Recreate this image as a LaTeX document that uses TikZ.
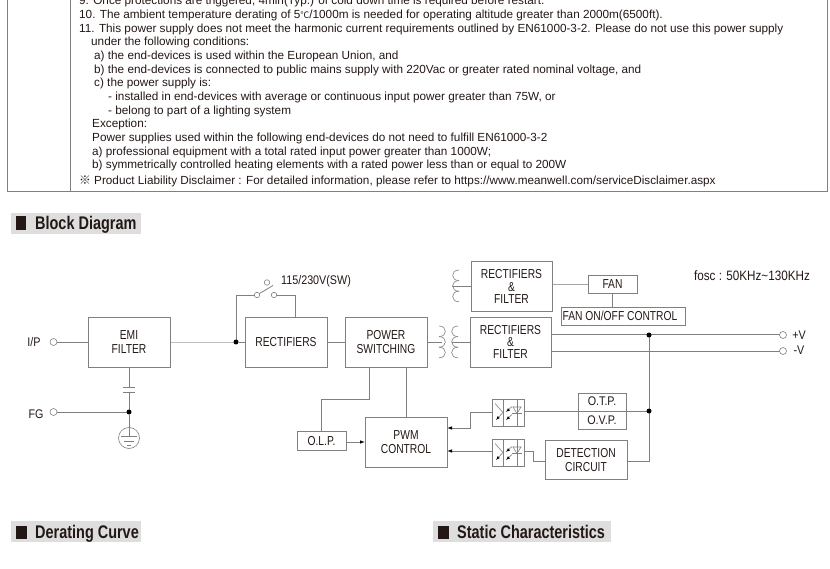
\documentclass[tikz,border=0pt]{standalone}
\usepackage{fontspec}
\setmainfont{Liberation Sans}
\newfontfamily\narrowfont[FakeStretch=0.79]{Liberation Sans}
\newfontfamily\tagfont[FakeStretch=0.86]{Liberation Sans}
\newfontfamily\headfont[FakeStretch=0.79]{Liberation Sans}
\newfontfamily\cjk{Noto Sans CJK SC}
\usetikzlibrary{arrows.meta,backgrounds}
\definecolor{linegray}{HTML}{808080}
\definecolor{inkblack}{HTML}{231815}
\definecolor{bargray}{HTML}{DEDEDE}
\tikzset{
    wire/.style={draw=linegray, line width=0.8pt},
    thinwire/.style={draw=linegray, line width=0.6pt},
    blockbox/.style 2 args={draw=linegray, line width=0.8pt, minimum width=#1, minimum height=#2,
        inner sep=0pt, outer sep=0pt, align=center, text=inkblack,
        font=\narrowfont\fontsize{13}{14.6}\selectfont},
    rectbox/.style={blockbox={81pt}{50pt}, font=\narrowfont\fontsize{13}{12.4}\selectfont},
    optobox/.style={blockbox={32pt}{27pt}},
    terminal/.style={circle, draw=linegray, line width=0.6pt, fill=white, minimum size=7pt, inner sep=0pt, outer sep=0pt},
    junction/.style={circle, fill=black, minimum size=5pt, inner sep=0pt, outer sep=0pt},
    tag/.style={inner sep=0pt, text=inkblack, font=\tagfont\fontsize{12.5}{14}\selectfont},
    notetext/.style={anchor=base west, inner sep=0pt, text=inkblack, font=\fontsize{11.75}{13}\selectfont},
    headbar/.style={fill=bargray, draw=none},
    headtext/.style={anchor=base west, inner sep=0pt, text=inkblack, font=\headfont\bfseries\fontsize{18.3}{20}\selectfont},
    flow/.style={wire, -{Latex[length=5pt,width=3.5pt,black]}}
}
\newcommand{\coilturns}[4]{%
    \foreach \k in {0,1,2}
        \draw[thinwire] (#1,#2+\k*#4) .. controls (#1+#3,#2+\k*#4) and (#1+#3,#2+#4+\k*#4) .. (#1,#2+#4+\k*#4);
}
\begin{document}
\begin{tikzpicture}[x=1pt, y=-1pt]
    \useasboundingbox (0,0) rectangle (830,569);

    % notes table
    \draw[linegray, line width=0.7pt] (7,-5) -- (7,191) -- (827,191) -- (827,-5);
    \draw[linegray, line width=0.7pt] (70,-5) -- (70,191);

    \node[notetext] (note9) at (79,5) {9. Once protections are triggered, 4min(Typ.) of cold down time is required before restart.};
    \node[notetext] (note10) at (79,18.5) {10. The ambient temperature derating of 5{\cjk\fontsize{9}{9}\selectfont ℃}/1000m is needed for operating altitude greater than 2000m(6500ft).};
    \node[notetext] (note11) at (79,32.5) {11. This power supply does not meet the harmonic current requirements outlined by EN61000-3-2. Please do not use this power supply};
    \node[notetext] (note11a) at (91,46) {under the following conditions:};
    \node[notetext] (note11b) at (94,60) {a) the end-devices is used within the European Union, and};
    \node[notetext] (note11c) at (94,73.5) {b) the end-devices is connected to public mains supply with 220Vac or greater rated nominal voltage, and};
    \node[notetext] (note11d) at (94,87) {c) the power supply is:};
    \node[notetext] (note11e) at (108,101) {- installed in end-devices with average or continuous input power greater than 75W, or};
    \node[notetext] (note11f) at (108,114.5) {- belong to part of a lighting system};
    \node[notetext] (note11g) at (92,128) {Exception:};
    \node[notetext] (note11h) at (92,142) {Power supplies used within the following end-devices do not need to fulfill EN61000-3-2};
    \node[notetext] (note11i) at (92,155.5) {a) professional equipment with a total rated input power greater than 1000W;};
    \node[notetext] (note11j) at (92,169) {b) symmetrically controlled heating elements with a rated power less than or equal to 200W};
    \node[notetext] (note12) at (79,184.5) {{\cjk ※} Product Liability Disclaimer : For detailed information, please refer to https://www.meanwell.com/serviceDisclaimer.aspx};

    % section heads
    \fill[headbar] (11,213) rectangle (141,234);
    \fill[inkblack] (16,216) rectangle (26,230);
    \node[headtext] (headblock) at (35,230) {Block Diagram};
    \fill[headbar] (11,521) rectangle (141,542);
    \fill[inkblack] (16,526) rectangle (27,539);
    \node[headtext] (headderate) at (35,538) {Derating Curve};
    \fill[headbar] (433,521) rectangle (611,542);
    \fill[inkblack] (438,526) rectangle (449,539);
    \node[headtext] (headstatic) at (457,538) {Static Characteristics};

    % blocks
    \node[blockbox={82pt}{50pt}] (emi) at (129,342) {EMI\\FILTER};
    \node[blockbox={82pt}{50pt}] (rect) at (286,342) {RECTIFIERS};
    \node[blockbox={82pt}{50pt}] (switching) at (386,342) {POWER\\SWITCHING};
    \node[rectbox] (rectfan) at (511.5,286.5) {RECTIFIERS\\\&\\FILTER};
    \node[rectbox] (rectout) at (510.5,342) {RECTIFIERS\\\&\\FILTER};
    \node[blockbox={49pt}{18pt}] (fan) at (612.5,284) {FAN};
    \node[blockbox={124pt}{18pt}] (fanctrl) at (623,316) {FAN ON/OFF CONTROL\hspace*{6pt}};
    \node[blockbox={49pt}{19pt}] (olp) at (321.5,441) {O.L.P.};
    \node[blockbox={82pt}{50pt}] (pwm) at (406,442) {PWM\\CONTROL};
    \node[optobox] (optotop) at (508,412.5) {};
    \node[optobox] (optobot) at (508,452.5) {};
    \node[blockbox={48pt}{36pt}] (prot) at (602,411) {};
    \node[blockbox={82pt}{39pt}] (detect) at (586,460) {DETECTION\\CIRCUIT};

    % terminals and labels
    \node[terminal] (ip) at (53.5,342) {};
    \node[terminal] (fg) at (53.5,412) {};
    \node[terminal] (vplus) at (783,335) {};
    \node[terminal] (vminus) at (783,351) {};
    \node[tag] (iplabel) at (34,342.5) {I/P};
    \node[tag] (fglabel) at (36,414) {FG};
    \node[tag] (vpluslabel) at (799,335) {+V};
    \node[tag] (vminuslabel) at (799,350.5) {-V};
    \node[tag] (swlabel) at (316,281) {115/230V(SW)};
    \node[tag, font=\tagfont\fontsize{13.6}{14}\selectfont] (fosc) at (752,275.5) {fosc : 50KHz\textasciitilde 130KHz};
    \node[tag] (otp) at (602,401.5) {O.T.P.};
    \node[tag] (ovp) at (602,420) {O.V.P.};

    % junctions and switch contacts
    \node[junction] (inputdot) at (236,342) {};
    \node[junction] (fgdot) at (129,412) {};
    \node[junction] (plusdot) at (649,335) {};
    \node[junction] (sensedot) at (649,411) {};
    \node[terminal, minimum size=5.5pt] (swa) at (257,295) {};
    \node[terminal, minimum size=5.5pt] (swb) at (274,295) {};
    \node[terminal, minimum size=5.5pt] (swc) at (267,282.5) {};

    \begin{scope}[on background layer]
    % main path
    \draw[wire] (ip) -- (emi.west);
    \draw[wire, draw=linegray!50] (emi.east) -- (inputdot);
    \draw[wire] (inputdot) -- (rect.west);
    \draw[wire] (inputdot) |- (swa);
    \draw[wire] (swb) -| (295,317);
    \draw[wire] (swa) -- (273,285.5);
    \draw[wire] (rect.east) -- (switching.west);
    \draw[wire] (switching.east) -- (442,342);
    \draw[wire] (452,342) -- (rectout.west);
    \draw[wire] (452,286.5) -- (rectfan.west);
    \draw[wire, draw=linegray!70] (rectfan.east |- fan.west) -- (fan.west);
    \draw[wire] (fan.south) -- (fan.south |- fanctrl.north);
    \draw[wire, line width=1pt] (rectout.east |- vplus) -- (vplus);
    \draw[wire, line width=1pt] (rectout.east |- vminus) -- (vminus);

    % input filter and earth
    \coordinate (capa) at (129,387);
    \coordinate (capb) at (129,392);
    \coordinate (earthtop) at (129,436);
    \draw[wire] (emi.south) -- (capa);
    \draw[wire] (123,387) -- (135,387);
    \draw[wire] (123,392) -- (135,392);
    \draw[wire] (capb) -- (fgdot);
    \draw[wire] (fg) -- (fgdot);
    \draw[wire] (fgdot) -- (earthtop);

    % control loop
    \draw[wire] (369,367) |- (321.5,399) -- (olp.north);
    \draw[wire] (406,367) -- (pwm.north);
    \draw[flow] (olp.east |- pwm.west) -- (pwm.west);
    \draw[flow] (optotop.west |- 0,412) -| (470,428) -- (pwm.east |- 0,428);
    \draw[flow] (optobot.west |- 0,451) -- (pwm.east |- 0,451);
    \draw[wire] (optotop.east |- sensedot) -- (sensedot);
    \draw[wire] (optobot.east |- 0,451) -| (533,461) -- (detect.west |- 0,461);
    \draw[wire] (detect.east |- 0,461) -| (plusdot);
    \end{scope}

    % transformer
    \coilturns{439}{326}{8.5}{10.6}
    \coilturns{458}{326}{-8.5}{10.6}
    \coilturns{459}{270}{-8.5}{10.6}

    % earth symbol
    \node[circle, thinwire, minimum size=21pt, inner sep=0pt] (earth) at (129,438) {};
    \draw[thinwire] (121,436) -- (137,436);
    \draw[thinwire] (124,441) -- (134,441);
    \draw[thinwire] (127,445) -- (131,445);

    % opto couplers
    \foreach \opto in {optotop,optobot} {
        \begin{scope}[shift={(\opto)}]
            \draw[thinwire] (-5,-13.5) -- (-5,13.5);
            \draw[thinwire] (9,-13.5) -- (9,13.5);
            \draw[thinwire] (-13,-9) -- (-5,0);
            \draw[thinwire, -{Latex[length=4pt,width=3pt,black]}] (-5,0) -- (-12,7.5);
            \draw[thinwire, -{Latex[length=4pt,width=3pt,black]}] (4,-6) -- (-2,-0.5);
            \draw[thinwire, -{Latex[length=4pt,width=3pt,black]}] (4,2) -- (-2,7.5);
            \draw[thinwire] (5,-5.5) -- (13,-5.5) -- (9,1) -- cycle;
            \draw[thinwire] (4,1) -- (14,1);
        \end{scope}
    }
\end{tikzpicture}
\end{document}
